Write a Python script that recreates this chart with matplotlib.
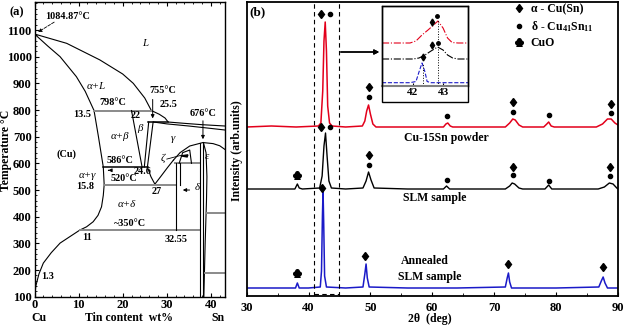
import matplotlib.pyplot as plt
from matplotlib.lines import Line2D
from matplotlib.patches import Rectangle, Polygon

plt.rcParams['font.family'] = ['Liberation Serif', 'DejaVu Serif']
plt.rcParams['mathtext.fontset'] = 'custom'
plt.rcParams['mathtext.rm'] = 'Liberation Serif'
plt.rcParams['mathtext.it'] = 'Liberation Serif:italic'
plt.rcParams['mathtext.bf'] = 'Liberation Serif:bold'
plt.rcParams['mathtext.default'] = 'bf'

# ---------------- (a) Cu-Sn phase diagram : wt% Sn / temperature (C) ----------------
liq_w = [0, 7.3, 14.8, 20, 22.4, 25, 26.5, 28.3, 29.6, 30.3, 34, 38, 43.2]
liq_T = [1085, 1050, 988, 935, 900, 845, 798, 784, 770, 755, 750, 745, 740]
sol_w = [0, 3, 5.8, 9.5, 11.5, 13.5]
sol_T = [1085, 1040, 1000, 925, 870, 798]
solvus_w = [13.5, 14.5, 15.6, 15.8, 15.6, 15.2, 14.4, 13.3, 11.8, 10.3, 8, 5.8, 3.8, 2, 1, 0.3, 0]
solvus_T = [798, 700, 586, 520, 480, 437, 405, 381, 362, 350, 325, 301, 265, 226, 185, 140, 100]
gsol_w = [27, 30, 35, 40, 43.2]
gsol_T = [755, 748, 740, 731, 725]
eut_w = [25.6, 26.4, 27.3, 28.6, 30.2, 31.5]
eut_T = [586, 550, 522, 550, 585, 612]
dome_w = [31.5, 33, 35.2, 38.2, 40.5, 42, 43.2]
dome_T = [612, 640, 665, 678, 674, 666, 652]
epsr_w = [38.3, 38.9, 39.1, 39.0, 38.7, 38.4]
epsr_T = [678, 640, 550, 460, 300, 100]

# isotherms: T, start wt%, end wt%, grey?
iso_T = [798, 755, 586, 520, 350, 600, 415, 190]
iso_w0 = [13.5, 25.7, 15.6, 15.8, 10.3, 31.8, 39.0, 38.6]
iso_w1 = [26.5, 30.3, 25.7, 32.2, 37.6, 37.6, 43.2, 43.2]
iso_grey = [True, False, False, True, True, True, True, True]

# straight boundaries: (w0, T0, w1, T1)
seg_w0 = [22, 25.9, 26.9, 32.1, 32.9, 37.6, 38.2]
seg_T0 = [798, 755, 755, 600, 600, 676, 678]
seg_w1 = [24.4, 24.9, 25.6, 32.1, 32.9, 37.6, 38.2]
seg_T1 = [586, 586, 586, 350, 520, 100, 100]

zeta_w = [32.8, 33.6, 35.2, 35.6]
zeta_T = [600, 640, 650, 600]
zfill_w = [33.2, 34.8, 34.6]
zfill_T = [628, 632, 624]

txt = ['1084.87°C', '755°C', '25.5', '798°C', '13.5', '22', '586°C', '24.6', '520°C',
       '15.8', '27', '~350°C', '11', '32.55', '1.3', '676°C', '(Cu)']
txt_w = [7.6, 29.1, 30.4, 17.8, 10.7, 23.0, 19.3, 24.6, 20.3, 11.4, 27.6, 21.6, 11.9, 32.2, 2.9, 38.2, 7.3]
txt_T = [1150, 872, 821, 827, 784, 781, 610, 570, 542, 512, 494, 375, 321, 316, 175, 788, 635]
ital = ['L', 'α+L', 'β', 'α+β', 'γ', 'α+γ', 'ζ', 'δ', 'α+δ', 'ε']
ital_w = [25, 14.1, 23.9, 19.3, 31.4, 11.9, 29.1, 37.0, 20.9, 39.0]
ital_T = [1050, 890, 731, 700, 694, 556, 619, 508, 444, 625]

# ---------------- (b) XRD patterns ----------------
tt_red = [30, 34, 38, 41.6, 42.0, 42.3, 42.5, 42.7, 42.9, 43.1, 43.4, 43.8, 46, 48.7, 49.1, 49.4,
          49.7, 50.0, 50.4, 50.9, 56, 61.8, 62.2, 62.5, 62.9, 63.3, 68, 71.8, 72.5, 73.0, 73.4,
          74.0, 74.6, 78.0, 78.5, 78.8, 79.2, 79.7, 84, 86.5, 87.5, 88.3, 88.9, 89.5, 90]
I_red = [169, 170, 169, 170, 173, 205, 255, 274, 245, 190, 173, 170, 169, 170, 175, 185,
         191, 182, 172, 169, 169, 169, 172, 173, 170, 169, 169, 169, 173, 177, 176,
         171, 169, 169, 172, 174, 170, 169, 169, 169, 172, 177, 177, 173, 171]
tt_blk = [30, 34, 37.8, 38.2, 38.5, 39, 41.8, 42.2, 42.5, 42.75, 43.0, 43.3, 43.7, 46, 48.8,
          49.3, 49.7, 50.1, 50.6, 56, 61.8, 62.3, 62.8, 68, 71.8, 72.5, 72.9, 73.3, 74.0, 74.6,
          78.2, 78.8, 79.3, 84, 86.8, 87.8, 88.6, 89.2, 89.8, 90]
I_blk = [107, 107, 107, 112, 108, 107, 108, 120, 150, 163, 140, 115, 108, 107, 108,
         115, 124, 116, 108, 107, 107, 110, 107, 107, 107, 110, 113, 112, 108, 107,
         107, 111, 107, 107, 107, 109, 113, 112, 108, 107]
tt_blu = [30, 34, 37.9, 38.2, 38.5, 40, 41.9, 42.1, 42.25, 42.35, 42.45, 42.6, 42.9, 46, 48.8,
          49.1, 49.3, 49.5, 49.8, 56, 64, 71.8, 72.1, 72.3, 72.5, 72.8, 80, 86.9, 87.3, 87.6,
          87.9, 88.3, 90]
I_blu = [8, 8, 8, 13, 8, 8, 9, 25, 80, 105, 75, 20, 9, 8, 9,
         22, 32, 18, 9, 8, 8, 9, 18, 23, 14, 8, 8, 9, 15, 19,
         13, 8, 8]

alpha_x = [42.0, 49.7, 73.1, 88.8, 42.0, 49.7, 73.0, 88.7, 42.2, 49.1, 72.3, 87.6]
alpha_y = [282, 209, 194, 192, 169, 141, 129, 129, 108, 40, 32, 29]
delta_x = [43.4, 49.7, 62.4, 73.1, 78.8, 88.8, 43.4, 49.7, 62.4, 73.0, 78.8, 88.7]
delta_y = [282, 199, 180, 184, 181, 183, 169, 131, 116, 121, 115, 120]
cuo_x = [38.2, 38.2]
cuo_y = [121, 23]

sample_txt = ['Cu-15Sn powder', 'SLM sample', 'Annealed', 'SLM sample']
sample_x = [55.4, 55.2, 54.9, 54.5]
sample_y = [158, 98, 35, 19]

# inset (zoom on the main peak)
in_red_x = [40.97, 41.9, 42.1, 42.3, 42.5, 42.65, 42.83, 43.0, 43.15, 43.3, 43.5, 43.83]
in_red_y = [43, 43, 45, 51, 56, 60, 65, 58, 48, 43.5, 43, 43]
in_blk_x = [40.97, 42.0, 42.2, 42.4, 42.6, 42.82, 43.0, 43.15, 43.32, 43.5, 43.83]
in_blk_y = [27, 27, 28, 31, 35, 39, 36, 31, 28, 27, 27]
in_blu_x = [40.97, 41.9, 42.1, 42.2, 42.3, 42.4, 42.47, 42.6, 43.83]
in_blu_y = [3.3, 3.3, 4.5, 14, 23, 14, 4.5, 3.3, 3.3]
in_alpha_x = [42.64, 42.64, 42.34]
in_alpha_y = [64, 41, 29]
in_delta_x = [42.81, 42.82]
in_delta_y = [70, 43]
in_guide_x = [42.35, 42.83]
in_guide_top = [23, 66]

RED = '#e3001b'
BLUE = '#1a1ac8'

fig = plt.figure(figsize=(6.27, 3.31), dpi=100)

# ------------------------------ panel (a)
ax1 = fig.add_axes([34.5/627, 1-296.7/331, (225-34.5)/627, (296.7-2)/331])
lw = 0.8
ax1.plot(liq_w, liq_T, 'k', lw=lw)
ax1.plot(sol_w, sol_T, 'k', lw=lw)
ax1.plot(solvus_w, solvus_T, 'k', lw=lw)
ax1.plot(gsol_w, gsol_T, 'k', lw=lw)
ax1.plot(eut_w, eut_T, 'k', lw=lw)
ax1.plot(dome_w, dome_T, 'k', lw=lw)
ax1.plot(epsr_w, epsr_T, 'k', lw=lw)
for T, a, b, g in zip(iso_T, iso_w0, iso_w1, iso_grey):
    ax1.plot([a, b], [T, T], color='#8a8a8a' if g else 'k', lw=1.4 if g else 1.1)
for a, t0, b, t1 in zip(seg_w0, seg_T0, seg_w1, seg_T1):
    ax1.plot([a, b], [t0, t1], 'k', lw=lw)
ax1.plot(zeta_w, zeta_T, 'k', lw=lw)
ax1.add_patch(Polygon(list(zip(zfill_w, zfill_T)), closed=True, color='k'))
ax1.plot([30.0, 33.2], [616, 630], 'k', lw=0.6)

for s, w, T in zip(txt, txt_w, txt_T):
    ax1.text(w, T, s, ha='center', va='center', fontsize=7.3, fontweight='bold')
for s, w, T in zip(ital, ital_w, ital_T):
    ax1.text(w, T, s, ha='center', va='center', fontsize=7.8, style='italic')

arw = dict(arrowstyle='-|>', color='k', lw=0.7, mutation_scale=5)
ax1.annotate('', xy=(0.3, 1087), xytext=(5.0, 1135),
             arrowprops=dict(arrowstyle='-|>', color='k', lw=0.6, ls='--', mutation_scale=5))
ax1.annotate('', xy=(26.8, 758), xytext=(26.8, 850), arrowprops=arw)
ax1.annotate('', xy=(38.2, 680), xytext=(38.2, 770), arrowprops=arw)
ax1.annotate('', xy=(33.0, 500), xytext=(35.8, 500), arrowprops=arw)
ax1.annotate('', xy=(16.1, 574), xytext=(17.4, 574), arrowprops=arw)

ax1.set_xlim(0, 43.2)
ax1.set_ylim(100, 1205)
ax1.set_xticks([0, 10, 20, 30, 40])
ax1.set_yticks(range(100, 1200, 100))
ax1.set_xticks(range(0, 44, 2), minor=True)
ax1.set_yticks(range(100, 1205, 20), minor=True)
ax1.tick_params(which='both', direction='in', top=True, labelsize=9, pad=2)
ax1.tick_params(which='major', length=3, width=0.8)
ax1.tick_params(which='minor', length=1.5, width=0.6)
for lab in ax1.get_xticklabels() + ax1.get_yticklabels():
    lab.set_fontweight('bold')
for sp in ax1.spines.values():
    sp.set_linewidth(1.0)

fig.text(16.7/627, 1-12/331, '(a)', ha='center', va='center', fontsize=9, fontweight='bold')
fig.text(39/627, 1-318/331, 'Cu', ha='center', va='center', fontsize=8.5, fontweight='bold')
fig.text(218/627, 1-318/331, 'Sn', ha='center', va='center', fontsize=8.5, fontweight='bold')
fig.text(129/627, 1-318/331, 'Tin content  wt%', ha='center', va='center', fontsize=8.5, fontweight='bold')
fig.text(6/627, 1-150/331, 'Temperature °C', rotation=90, ha='center', va='center',
         fontsize=8.5, fontweight='bold')

# ------------------------------ panel (b)
ax2 = fig.add_axes([246.6/627, 1-296/331, (618-246.6)/627, 294/331])
ax2.plot(tt_red, I_red, color=RED, lw=1.1)
ax2.plot(tt_blk, I_blk, color='k', lw=1.0)
ax2.plot(tt_blu, I_blu, color=BLUE, lw=1.1)
ax2.plot(alpha_x, alpha_y, 'kd', ms=4.5, ls='none')
ax2.plot(delta_x, delta_y, 'ko', ms=3, ls='none')
ax2.plot(cuo_x, cuo_y, 'k', marker=r'$\clubsuit$', ms=5.5, ls='none')
for s, x, y in zip(sample_txt, sample_x, sample_y):
    ax2.text(x, y, s, ha='left', va='center', fontsize=8.5, fontweight='bold')

ax2.axvline(40.9, color='k', ls='--', lw=0.8, dashes=(4, 3))
ax2.axvline(44.9, color='k', ls='--', lw=0.8, dashes=(4, 3))
ax2.plot([40.9, 44.9], [2, 2], 'k--', lw=0.8, dashes=(4, 3))

ax2.set_xlim(30, 90)
ax2.set_ylim(0, 294)
ax2.set_xticks(range(30, 91, 10))
ax2.set_xticks(range(30, 91, 5), minor=True)
ax2.set_yticks([])
ax2.tick_params(which='both', direction='in', labelsize=9, pad=4)
ax2.tick_params(which='major', length=3, width=0.8)
ax2.tick_params(which='minor', length=2, width=0.6)
for lab in ax2.get_xticklabels():
    lab.set_fontweight('bold')
for sp in ax2.spines.values():
    sp.set_linewidth(1.3)
ax2.text(0.03, 0.966, '(b)', transform=ax2.transAxes, ha='center', va='center',
         fontsize=9.5, fontweight='bold')
fig.text(430/627, 1-319/331, '2θ  (deg)', ha='center', va='center', fontsize=8.5, fontweight='bold')
fig.text(236.7/627, 1-151/331, 'Intensity (arb.units)', rotation=90, ha='center', va='center',
         fontsize=8.5, fontweight='bold')

handles = [Line2D([], [], color='k', marker='d', ms=4.5, ls='none'),
           Line2D([], [], color='k', marker='o', ms=3, ls='none'),
           Line2D([], [], color='k', marker=r'$\clubsuit$', ms=5.5, ls='none')]
ax2.legend(handles, ['α - Cu(Sn)', 'δ - Cu$_{41}$Sn$_{11}$', 'CuO'], loc='upper left',
           bbox_to_anchor=(0.72, 0.995), frameon=False, handlelength=0.8,
           handletextpad=0.6, labelspacing=0.3, borderpad=0, borderaxespad=0,
           prop=dict(size=8.5, weight='bold'))

# ------------------------------ inset
axi = fig.add_axes([382/627, 1-86/331, 86/627, 80/331])
axi.plot(in_red_x, in_red_y, color=RED, lw=0.8, ls='-.')
axi.plot(in_blk_x, in_blk_y, color='k', lw=0.8, ls='-.')
axi.plot(in_blu_x, in_blu_y, color=BLUE, lw=0.8, ls='--')
axi.plot(in_alpha_x, in_alpha_y, 'kd', ms=3.5, ls='none')
axi.plot(in_delta_x, in_delta_y, 'ko', ms=2.5, ls='none')
for x, t in zip(in_guide_x, in_guide_top):
    axi.plot([x, x], [0, t], 'k:', lw=0.7)
axi.set_xlim(40.97, 43.83)
axi.set_ylim(0, 80)
axi.set_xticks([42, 43])
axi.set_yticks([])
axi.tick_params(direction='in', length=2, labelsize=8, pad=1.5)
for lab in axi.get_xticklabels():
    lab.set_fontweight('bold')
axi.spines['bottom'].set_color('#808080')
axi.spines['bottom'].set_linewidth(1.5)
for s in ['top', 'left', 'right']:
    axi.spines[s].set_linewidth(1.0)
fig.add_artist(Rectangle((382/627, 1-102/331), 86/627, 96/331, transform=fig.transFigure,
                         fill=False, lw=1.0, ec='k'))
fig.add_artist(plt.annotate('', xy=(382/627, 1-52/331), xytext=(338/627, 1-52/331),
                            xycoords='figure fraction', textcoords='figure fraction',
                            arrowprops=dict(arrowstyle='-|>', color='k', lw=1.0, mutation_scale=7)))

fig.savefig('out.png', dpi=100)
